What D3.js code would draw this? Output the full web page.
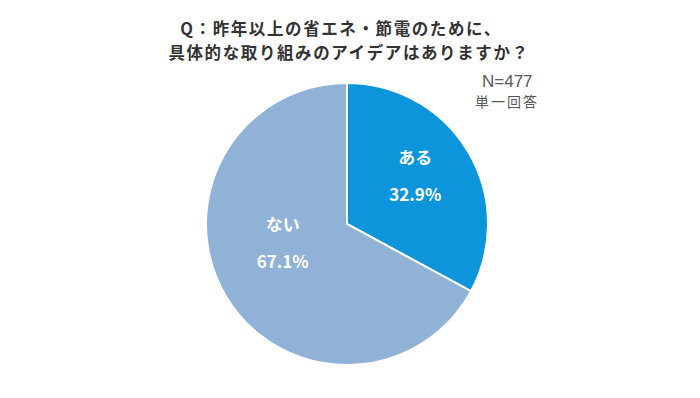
<!DOCTYPE html>
<html lang="ja">
  <head>
    <meta charset="utf-8">
    <title>省エネ・節電のアイデア</title>
    <script src="https://cdnjs.cloudflare.com/ajax/libs/d3/7.8.5/d3.min.js"></script>
    <style type="text/css">
      body, html {
        margin: 0;
        padding: 0;
        background: #fff;
        font-family: "Noto Sans CJK JP", "Noto Sans", sans-serif;
      }
    </style>
  </head>
  <body>
    <script type="text/javascript">
      const w = 700;
      const h = 398;

      // data
      const categories = ["ある", "ない"];
      const values = [32.9, 67.1];
      const colors = ["#0d95dc", "#90b2d6"];
      const titleLines = ["Q：昨年以上の省エネ・節電のために、", "具体的な取り組みのアイデアはありますか？"];
      const sampleLabel = "N=477";
      const answerLabel = "単一回答";

      const cx = 347, cy = 224, r = 141;

      const svg = d3.select("body")
        .append("svg")
        .attr("width", w)
        .attr("height", h);

      // title
      svg.append("g")
        .selectAll("text")
        .data(titleLines)
        .enter()
        .append("text")
        .attr("x", (d, i) => i === 0 ? 341 : 349)
        .attr("y", (d, i) => 35 + i * 24)
        .attr("text-anchor", "middle")
        .attr("font-size", "16.5px")
        .attr("letter-spacing", "1.6px")
        .attr("font-weight", "bold")
        .attr("fill", "#333")
        .text(d => d);

      // N / answer type
      svg.append("text")
        .attr("x", 482)
        .attr("y", 87)
        .attr("font-family", "'Liberation Sans', Arial, sans-serif")
        .attr("font-size", "17px")
        .attr("fill", "#595959")
        .text(sampleLabel);

      svg.append("text")
        .attr("x", 475)
        .attr("y", 107)
        .attr("font-size", "14px")
        .attr("letter-spacing", "2px")
        .attr("fill", "#595959")
        .text(answerLabel);

      const pie = d3.pie().sort(null).value(d => d.value);
      const arcs = pie(categories.map((c, i) => ({ name: c, value: values[i] })));

      const arc = d3.arc().innerRadius(0).outerRadius(r);
      const labelArc = d3.arc().innerRadius(r * 0.58).outerRadius(r * 0.58);

      const g = svg.append("g").attr("transform", "translate(" + cx + "," + cy + ")");

      g.selectAll("path")
        .data(arcs)
        .enter()
        .append("path")
        .attr("d", arc)
        .attr("fill", (d, i) => colors[i])
        .attr("stroke", "#fff")
        .attr("stroke-width", 2);

      // small nudges so labels sit where the original put them
      const nudge = [[-2, -6], [6, -23]];

      const labels = g.selectAll("g.lbl")
        .data(arcs)
        .enter()
        .append("g")
        .attr("class", "lbl")
        .attr("transform", (d, i) => {
          const c = labelArc.centroid(d);
          return "translate(" + (c[0] + nudge[i][0]) + "," + (c[1] + nudge[i][1]) + ")";
        });

      labels.append("text")
        .attr("y", -12)
        .attr("text-anchor", "middle")
        .attr("font-size", "17px")
        .attr("font-weight", "bold")
        .attr("fill", "#fff")
        .text(d => d.data.name);

      labels.append("text")
        .attr("y", 25)
        .attr("text-anchor", "middle")
        .attr("font-size", "17px")
        .attr("font-weight", "bold")
        .attr("fill", "#fff")
        .text(d => d.data.value.toFixed(1) + "%");
    </script>
  </body>
</html>
